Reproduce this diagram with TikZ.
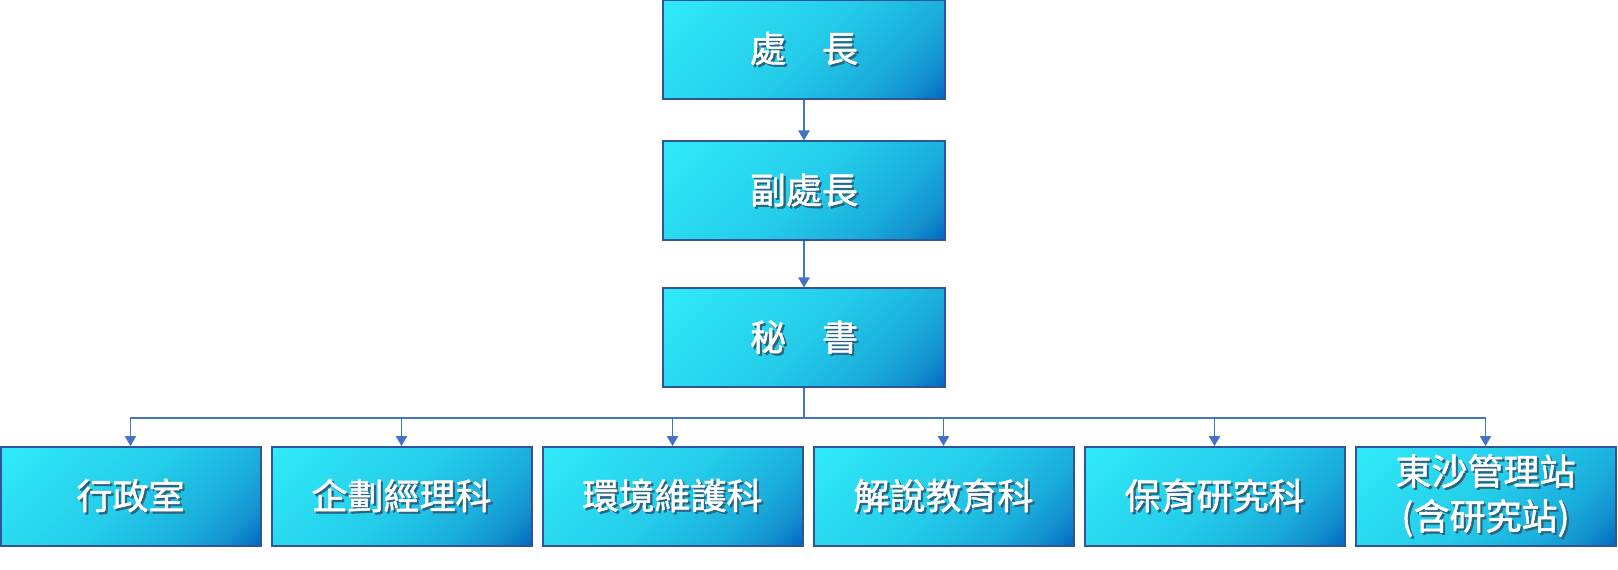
\documentclass[tikz,border=0pt]{standalone}
\usepackage{fontspec}
\setmainfont{Noto Sans CJK TC}
\newfontfamily\orgfont{Noto Sans CJK TC}[FakeBold=1.4]
\usetikzlibrary{arrows.meta}
\definecolor{boxborder}{HTML}{2F5597}
\definecolor{lightc}{HTML}{30EAF8}
\definecolor{midc}{HTML}{24CCEA}
\definecolor{thirdc}{HTML}{1AAEDC}
\definecolor{fourthc}{HTML}{1390CF}
\definecolor{darkc}{HTML}{0068BC}
\definecolor{linec}{HTML}{4472C4}
\definecolor{shadowc}{HTML}{2A6480}
\pgfdeclarehorizontalshading{boxgrad}{100bp}{color(0bp)=(lightc); color(15bp)=(lightc); color(50bp)=(midc); color(68bp)=(thirdc); color(78bp)=(fourthc); color(85.5bp)=(darkc); color(100bp)=(darkc)}
\newcommand{\shtext}[1]{\makebox[0pt][l]{\raisebox{-1.6pt}{\hspace{1.6pt}\textcolor{shadowc}{#1}}}\textcolor{white}{#1}}
\tikzset{
  orgbox/.style={draw=boxborder, line width=1.5pt, shading=boxgrad, shading angle=-45,
    inner sep=0pt, align=center, font=\orgfont\fontsize{27pt}{33.75pt}\selectfont},
  topbox/.style={orgbox, minimum width=211.5pt, minimum height=74.25pt},
  lowbox/.style={orgbox, minimum width=195pt, minimum height=74.25pt},
  conn/.style={draw=linec, line width=1.1pt, -{Triangle[length=7.5pt,width=8.5pt]}},
  busline/.style={draw=linec, line width=1.1pt}
}
\begin{document}
\begin{tikzpicture}[x=0.75pt,y=0.75pt]
\useasboundingbox (0,0) rectangle (1618,-570);
\node[topbox] (director) at (804,-49.5) {\shtext{處　長}};
\node[topbox] (deputy) at (804,-191) {\shtext{副處長}};
\node[topbox] (secretary) at (804,-338) {\shtext{秘　書}};
\node[lowbox] (b1) at (130.5,-496.5) {\shtext{行政室}};
\node[lowbox] (b2) at (401.5,-496.5) {\shtext{企劃經理科}};
\node[lowbox] (b3) at (672.5,-496.5) {\shtext{環境維護科}};
\node[lowbox] (b4) at (943.5,-496.5) {\shtext{解說教育科}};
\node[lowbox] (b5) at (1214.5,-496.5) {\shtext{保育研究科}};
\node[lowbox] (b6) at (1485.5,-496.5) {\shtext{東沙管理站}\\\shtext{(含研究站)}};
\draw[conn] (director) -- (deputy);
\draw[conn] (deputy) -- (secretary);
\coordinate (bus) at (804,-418);
\draw[busline] (secretary.south) -- (bus);
\foreach \b in {b1,b2,b3,b4,b5,b6}{
  \draw[conn] (bus) -| (\b.north);
}
\end{tikzpicture}
\end{document}
